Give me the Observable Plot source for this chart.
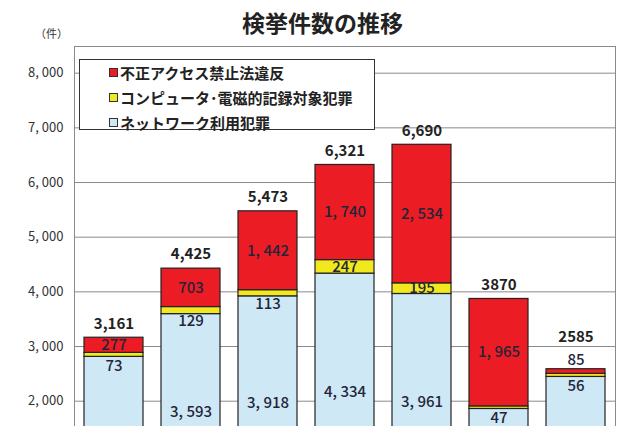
<!DOCTYPE html>
<html>
<head>
<meta charset="utf-8">
<script src="https://cdn.jsdelivr.net/npm/d3@7"></script>
<script src="https://cdn.jsdelivr.net/npm/@observablehq/plot@0.6"></script>
<style>
  body { margin: 0; background: #fff; }
  #wrap { position: relative; width: 640px; height: 426px; overflow: hidden; background: #fff;
          font-family: "Noto Sans CJK JP", "Noto Sans", sans-serif; }
  #title { position: absolute; left: 0; top: 7px; width: 645px; text-align: center;
           font-size: 23px; font-weight: bold; color: #222; line-height: 30px; }
  #unit { position: absolute; left: 35px; top: 25px; font-size: 11px; color: #333; line-height: 16px; }
  #chart { position: absolute; left: 0; top: 0; }
  #legend { position: absolute; left: 79px; top: 59px; width: 296px; height: 71px;
            border: 1.5px solid #333; background: #fff; box-sizing: border-box; }
  .item { position: absolute; left: 29px; height: 20px; line-height: 20px; font-size: 15px;
          font-weight: bold; color: #222; white-space: nowrap; }
  .sw { display: inline-block; width: 7px; height: 7px; border: 1px solid #333; margin-right: 2px;
        vertical-align: 2px; }
</style>
</head>
<body>
<div id="wrap">
  <div id="title">検挙件数の推移</div>
  <div id="unit">（件）</div>
  <div id="chart"></div>
  <div id="legend"></div>
</div>
<script>
const categories = ["H17", "H18", "H19", "H20", "H21", "H22", "H23"];
const seriesNames = ["ネットワーク利用犯罪", "コンピュータ･電磁的記録対象犯罪", "不正アクセス禁止法違反"];
const seriesColors = ["#cfe8f5", "#f2e81e", "#ec1c24"];
const network = [2811, 3593, 3918, 4334, 3961, 1858, 2444];
const computer = [73, 129, 113, 247, 195, 47, 56];
const access = [277, 703, 1442, 1740, 2534, 1965, 85];
const totals = [3161, 4425, 5473, 6321, 6690, 3870, 2585];
const totalLabels = ["3,161", "4,425", "5,473", "6,321", "6,690", "3870", "2585"];
const yTicks = [2000, 3000, 4000, 5000, 6000, 7000, 8000];
const yTickLabels = ["2, 000", "3, 000", "4, 000", "5, 000", "6, 000", "7, 000", "8, 000"];

// visible window of the (cropped) value axis
const yDomain = [1281, 8488];
const visibleMin = 1600;

const fmt = v => d3.format(",")(v).replace(",", ", ");
const seriesValues = [network, computer, access];

const rows = [];
categories.forEach((cat, i) => {
  let base = 0;
  seriesValues.forEach((vals, s) => {
    const v = vals[i];
    rows.push({cat, series: seriesNames[s], s, v, y1: base, y2: base + v, mid: base + v / 2, label: fmt(v)});
    base += v;
  });
});
const totalRows = categories.map((cat, i) => ({cat, total: totals[i], label: totalLabels[i], smallTop: access[i] < 150}));

const shown = rows.filter(d => d.mid >= visibleMin || d.s > 0);
const centered = shown.filter(d => !(d.s === 1 && d.v < 150) && !(d.s === 2 && d.v < 150));
const below = shown.filter(d => d.s === 1 && d.v < 150);
const above = shown.filter(d => d.s === 2 && d.v < 150);

const font = "Noto Sans CJK JP";
const segText = {x: "cat", y: "mid", text: "label", fontSize: 15, fontFamily: font, fontWeight: 500, fill: "#23253a"};

const chart = Plot.plot({
  width: 640,
  height: 440,
  marginTop: 46,
  marginBottom: 0,
  marginLeft: 74,
  marginRight: 25,
  style: {fontFamily: font, fontSize: "13px", color: "#333", background: "transparent"},
  x: {domain: categories, paddingInner: 0.24, paddingOuter: 0.12, axis: null},
  y: {domain: yDomain, ticks: yTicks, tickFormat: v => yTickLabels[yTicks.indexOf(v)], tickSize: 0, tickPadding: 11, label: null},
  color: {domain: seriesNames, range: seriesColors},
  marks: [
    Plot.ruleY(yTicks, {stroke: "#8a8a8a", strokeWidth: 1}),
    Plot.barY(rows, {x: "cat", y1: "y1", y2: "y2", fill: "series", stroke: "#222", strokeWidth: 1.2, clip: true}),
    Plot.frame({stroke: "#8a8a8a"}),
    Plot.text(centered, {...segText}),
    Plot.text(below, {...segText, dy: 11}),
    Plot.text(above, {...segText, dy: -11}),
    Plot.text(totalRows.filter(d => !d.smallTop), {x: "cat", y: "total", text: "label", dy: -14, fontSize: 15, fontWeight: "bold", fontFamily: font, fill: "#222"}),
    Plot.text(totalRows.filter(d => d.smallTop), {x: "cat", y: "total", text: "label", dy: -32, fontSize: 15, fontWeight: "bold", fontFamily: font, fill: "#222"})
  ]
});
document.getElementById("chart").appendChild(chart);

// legend (red, yellow, blue order as in reference)
const legend = document.getElementById("legend");
const order = [2, 1, 0];
order.forEach((s, k) => {
  const item = document.createElement("div");
  item.className = "item";
  item.style.top = (3 + k * 25) + "px";
  const sw = document.createElement("span");
  sw.className = "sw";
  sw.style.background = seriesColors[s];
  item.appendChild(sw);
  item.appendChild(document.createTextNode(seriesNames[s]));
  legend.appendChild(item);
});
</script>
</body>
</html>
